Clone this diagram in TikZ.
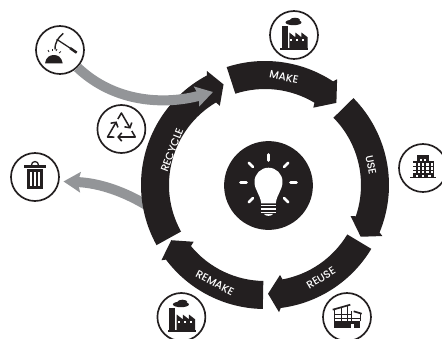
\documentclass[tikz,border=0pt]{standalone}
\usepackage{fontspec}
\setmainfont{Poppins}[UprightFont=* Medium]
\usepackage{xcolor}
\usetikzlibrary{arrows.meta, calc}
\definecolor{inkblack}{HTML}{231F20}
\definecolor{flowgray}{HTML}{939598}
\tikzset{
    iconring/.style={circle, draw=inkblack, fill=white, line width=1.2pt, minimum size=1.2cm, inner sep=0pt},
    ringlabel/.style={text=white, font=\fontsize{7.6}{8}\selectfont, inner sep=0pt},
    flowarrow/.style={draw=flowgray, line width=0.25cm, -{Stealth[length=0.42cm, width=0.5cm, inset=0.06cm]}},
    px/.style={x=0.025cm, y=0.025cm},
    factorypic/.pic={
        \fill[inkblack] (-12,-13.3) rectangle (-6.3,9);
        \fill[inkblack] (-13.7,-14.6) rectangle (14.3,-13.3);
        \fill[inkblack] (-4.7,-13.3) -- (-4.7,2.5) -- (1.4,-2.3) -- (1.4,2.5) -- (7.5,-2.3) -- (7.5,2.5) -- (13.7,-2.3) -- (13.7,-13.3) -- cycle;
        \fill[inkblack] (-0.5,12.6) ellipse (8 and 2.8);
        \fill[inkblack] (1,15) ellipse (5 and 2.3);
        \foreach \wx in {-2.5,3.3,9.3}
            \fill[white] (\wx-1,-6) rectangle (\wx+1,-4);
    },
    minepic/.pic={
        \fill[inkblack] (-15,-13.3) .. controls (-14,-7) and (-10,-5) .. (-6.2,-5) .. controls (-2,-5) and (1.5,-7) .. (2.7,-13.3) -- cycle;
        \draw[inkblack, line width=1pt] (3.3,16.7) .. controls (-2,12) and (-5,8) .. (-5,0.5);
        \draw[inkblack, line width=0.9pt] (-3.3,10.7) -- (10,2);
        \draw[inkblack, line width=1.8pt] (10,2) -- (16.7,-2.7);
        \foreach \sx/\sy/\ex/\ey in {-11/-2/-12/0, -8/-1/-8/1.5, -4/-1/-3/1, -1/-3/1/-1.5}
            \draw[inkblack, line width=0.5pt] (\sx,\sy) -- (\ex,\ey);
    },
    recyclepic/.pic={
        \foreach \ang in {0,120,240}
            \draw[rotate=\ang, inkblack, line width=1.1pt, line join=round, -{Straight Barb[length=2.5pt, width=6pt]}] (-3.5,10) -- (0,16) -- (9,0.4);
    },
    trashpic/.pic={
        \fill[inkblack] (-10.7,9.3) rectangle (10.7,12);
        \draw[inkblack, line width=0.9pt] (-3.5,12) arc[start angle=180, end angle=0, radius=3.5];
        \fill[inkblack] (-8.3,-12.3) rectangle (8.3,8);
        \foreach \sx in {-4.4,0,4.4}
            \fill[white] (\sx-1,-8.7) rectangle (\sx+1,5.3);
    },
    towerpic/.pic={
        \fill[inkblack] (-6,-8.7) rectangle (6.3,13);
        \fill[inkblack] (-10.3,-8.7) rectangle (11.3,7.3);
        \fill[inkblack] (-12.7,-10) rectangle (13,-8.7);
        \foreach \wx in {-8.6,-4,0.2,4.4,9}
            \foreach \wy in {3.4,-0.4,-4.2}
                \fill[white] (\wx-1.2,\wy-1.2) rectangle (\wx+1.2,\wy+1.2);
        \foreach \wx in {-2,2}
            \foreach \wy in {8}
                \fill[white] (\wx-1.2,\wy-1.2) rectangle (\wx+1.2,\wy+1.2);
        \foreach \wx in {-6,0.2,6.4}
            \fill[white] (\wx-1.2,-8.7) rectangle (\wx+1.2,-6.5);
    },
    workshoppic/.pic={
        \draw[inkblack, line width=1.2pt] (-14.3,7.3) -- (3.3,12.3);
        \draw[inkblack, line width=1.2pt] (6.7,5.7) -- (14.7,3.3);
        \fill[inkblack] (-13.3,-11) rectangle (13.3,-4.3);
        \fill[white] (4,-11) rectangle (6.7,-7);
        \foreach \vx/\vt in {-12.7/7.5,-5.3/9.6,0/11,4.7/6,13/3.8}
            \draw[inkblack, line width=0.7pt] (\vx,-4.3) -- (\vx,\vt);
        \draw[inkblack, line width=0.7pt] (-12.7,3) -- (4.7,3);
        \draw[inkblack, line width=0.7pt] (-12.7,-1) -- (13,-1);
    },
    bulbpic/.pic={
        \fill[white] (-7.3,-18) .. controls (-8,-9) and (-14,-5) .. (-14,3.8) arc[start angle=180, end angle=0, radius=14] .. controls (14,-5) and (8,-9) .. (7.3,-18) -- cycle;
        \foreach \by in {-20,-23.5,-27}
            \draw[white, line width=1.1pt] (-7.5,\by) -- (7.5,\by);
        \fill[white] (-4.5,-28.5) .. controls (-3,-31) and (3,-31) .. (4.5,-28.5) -- cycle;
        \foreach \ang in {0,45,90,135,180,225,-45}
            \draw[white, line width=1.8pt, line cap=round] ($(0,3)+(\ang:22)$) -- ($(0,3)+(\ang:28)$);
    },
}
\begin{document}
\begin{tikzpicture}
    \useasboundingbox (-6.625,-3.825) rectangle (4.425,4.625);

    \node[iconring] (mine) at (-5.125, 3.375) {};
    \node[iconring] (sorting) at (-3.59, 1.4) {};
    \node[iconring] (trash) at (-5.75, 0.2) {};
    \node[iconring] (plant) at (0.725, 3.75) {};
    \node[iconring] (tower) at (3.95, 0.425) {};
    \node[iconring] (workshop) at (2.05, -3.3) {};
    \node[iconring] (replant) at (-2.09, -3.3) {};
    \node[circle, fill=inkblack, minimum size=2.22cm, inner sep=0pt] (bulb) at (0.0875, -0.0125) {};

    \pic[px] at (mine) {minepic};
    \pic[px] at (sorting) {recyclepic};
    \pic[px] at (trash) {trashpic};
    \pic[px] at (plant) {factorypic};
    \pic[px] at (tower) {towerpic};
    \pic[px] at (workshop) {workshoppic};
    \pic[px] at (replant) {factorypic};
    \pic[px] at (bulb) {bulbpic};

    % waste leaves under the ring
    \coordinate (wasteout) at (-2.925, -0.525);
    \draw[flowarrow, shorten >=0.1cm] (wasteout) .. controls (-3.5, -0.175) and (-4.125, 0.05) .. (trash.-10);

    % tail angle / outer barb / tip / inner barb
    \foreach \tl/\ou/\ti/\inn in {108/55.7/49/58, 44.5/-23.5/-28.4/-20, -31/-83.7/-88.4/-80.5, -91/-144/-149.5/-141.5, 209/117/112.4/119.7}
        \fill[inkblack] (\tl:3.1) arc[start angle=\tl, end angle=\ou+1, radius=3.1] -- (\ou:3.2) -- (\ti:2.72) -- (\inn:2.28) -- (\inn+1:2.4) arc[start angle=\inn+1, end angle=\tl, radius=2.4] -- cycle;

    \node[ringlabel, rotate=-12] (make) at (0.475, 2.7) {MAKE};
    \node[ringlabel, rotate=-79] (use) at (2.65, 0.5) {USE};
    \node[ringlabel, rotate=31] (reuse) at (1.4, -2.325) {REUSE};
    \node[ringlabel, rotate=-28] (remake) at (-1.25, -2.45) {REMAKE};
    \node[ringlabel, rotate=69] (recycle) at (-2.325, 0.875) {RECYCLE};

    % ore goes over the ring
    \coordinate (orein) at (-1.3, 2.325);
    \draw[flowarrow] (mine.-45) .. controls (-3.75, 2.05) and (-2.5, 2.0) .. (orein);
\end{tikzpicture}
\end{document}
